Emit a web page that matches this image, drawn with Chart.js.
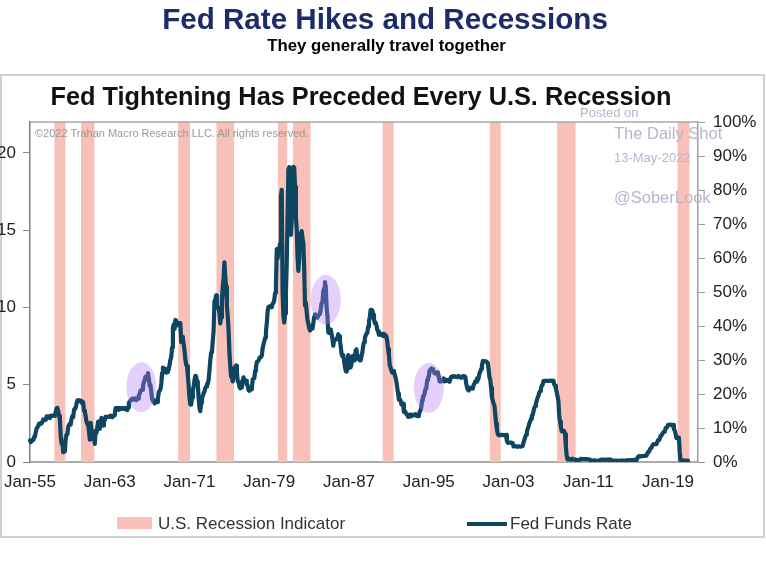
<!DOCTYPE html>
<html><head><meta charset="utf-8">
<script src="https://cdn.jsdelivr.net/npm/chart.js@4.4.0/dist/chart.umd.min.js"></script>
<style>
html,body{margin:0;padding:0;background:#fff;}
#wrap{position:relative;width:766px;height:574px;overflow:hidden;font-family:"Liberation Sans",Arial,sans-serif;}
#frame{position:absolute;left:0;top:74px;width:761px;height:460px;border:2px solid #d0d0d0;}
#c{position:absolute;left:0;top:0;}
.t{position:absolute;white-space:nowrap;line-height:1;}
.wm{color:#b3b7cc;}
</style></head><body>
<div id="wrap">
<div id="frame"></div>
<canvas id="c" width="766" height="574"></canvas>
<div class="t" style="left:0;width:770px;text-align:center;top:4px;font-weight:bold;font-size:29.6px;color:#1c2c6b;">Fed Rate Hikes and Recessions</div>
<div class="t" style="left:0;width:773px;text-align:center;top:38px;font-weight:bold;font-size:16.8px;color:#000;">They generally travel together</div>
<div class="t" style="left:0;width:722px;text-align:center;top:84px;font-weight:bold;font-size:25.3px;color:#111;">Fed Tightening Has Preceded Every U.S. Recession</div>
<div class="t" style="left:35px;top:128px;font-size:11px;color:#999;">©2022 Trahan Macro Research LLC. All rights reserved.</div>
<div class="t wm" style="left:580px;top:106px;font-size:13px;">Posted on</div>
<div class="t wm" style="left:614px;top:125px;font-size:16.5px;">The Daily Shot</div>
<div class="t wm" style="left:614px;top:151px;font-size:13px;">13-May-2022</div>
<div class="t wm" style="left:614px;top:189px;font-size:16.5px;">@SoberLook</div>
<div style="position:absolute;left:117px;top:517px;width:35px;height:12px;background:#f8c0b8;"></div>
<div class="t" style="left:158px;top:515px;font-size:17px;color:#333;">U.S. Recession Indicator</div>
<div style="position:absolute;left:467px;top:522px;width:40px;height:4px;background:#0e4561;"></div>
<div class="t" style="left:510px;top:515px;font-size:17px;color:#333;">Fed Funds Rate</div>
</div>
<script>
const startYear = 1955;
const lastLabel = '2022-01';
const monthNames = ['Jan','Feb','Mar','Apr','May','Jun','Jul','Aug','Sep','Oct','Nov','Dec'];
const xTickLabels = ['Jan-55','Jan-63','Jan-71','Jan-79','Jan-87','Jan-95','Jan-03','Jan-11','Jan-19'];

// Monthly effective fed funds rate, Jan-1955 .. Jan-2021 (one row per year)
const fedFundsRate = [
1.39,1.29,1.35,1.43,1.43,1.64,1.68,1.96,2.18,2.24,2.35,2.48,
2.45,2.50,2.50,2.62,2.75,2.71,2.75,2.73,2.95,2.96,2.88,2.94,
2.84,3.00,2.96,3.00,3.00,3.00,2.99,3.24,3.47,3.50,3.28,2.98,
2.72,1.67,1.20,1.26,0.63,0.93,0.68,1.53,1.76,1.80,2.27,2.42,
2.48,2.43,2.80,2.96,2.90,3.39,3.47,3.50,3.76,3.98,4.00,3.99,
3.99,3.97,3.84,3.92,3.85,3.32,3.23,2.98,2.60,2.47,2.44,1.98,
1.45,2.54,2.02,1.49,1.98,1.73,1.17,2.00,1.88,2.26,2.62,2.33,
2.15,2.37,2.85,2.78,2.36,2.68,2.71,2.93,2.90,2.90,2.94,2.93,
2.92,3.00,2.98,2.90,3.00,2.99,3.02,3.49,3.48,3.50,3.48,3.38,
3.48,3.48,3.43,3.47,3.50,3.50,3.42,3.50,3.45,3.36,3.52,3.85,
3.90,3.98,4.04,4.09,4.10,4.04,4.09,4.12,4.01,4.08,4.10,4.32,
4.42,4.60,4.65,4.67,4.90,5.17,5.30,5.53,5.40,5.53,5.76,5.40,
4.94,5.00,4.53,4.05,3.94,3.98,3.79,3.90,3.99,3.88,4.13,4.51,
4.61,4.71,5.05,5.76,6.11,6.07,6.02,6.03,5.78,5.91,5.82,6.02,
6.30,6.61,6.79,7.41,8.67,8.90,8.61,9.19,9.15,9.00,8.85,8.97,
8.98,8.98,7.76,8.10,7.95,7.61,7.21,6.61,6.29,6.20,5.60,4.90,
4.14,3.72,3.71,4.16,4.63,4.91,5.31,5.57,5.55,5.20,4.91,4.14,
3.50,3.29,3.83,4.17,4.27,4.46,4.55,4.80,4.87,5.04,5.06,5.33,
5.94,6.58,7.09,7.12,7.84,8.49,10.40,10.50,10.78,10.01,10.03,9.95,
9.65,8.97,9.35,10.51,11.31,11.93,12.92,12.01,11.34,10.06,9.45,8.53,
7.13,6.24,5.54,5.49,5.22,5.55,6.10,6.14,6.24,5.82,5.22,5.20,
4.87,4.77,4.84,4.82,5.29,5.48,5.31,5.29,5.25,5.02,4.95,4.65,
4.61,4.68,4.69,4.73,5.35,5.39,5.42,5.90,6.14,6.47,6.51,6.56,
6.70,6.78,6.79,6.89,7.36,7.60,7.81,8.04,8.45,8.96,9.76,10.03,
10.07,10.06,10.09,10.01,10.24,10.29,10.47,10.94,11.43,13.77,13.18,13.78,
13.82,14.13,17.19,17.61,10.98,9.47,9.03,9.61,10.87,12.81,15.85,18.90,
19.08,15.93,14.70,15.72,18.52,19.10,19.04,17.82,15.87,15.08,13.31,12.37,
13.22,14.78,14.68,14.94,14.45,14.15,12.59,10.12,10.31,9.71,9.20,8.95,
8.68,8.51,8.77,8.80,8.63,8.98,9.37,9.56,9.45,9.48,9.34,9.47,
9.56,9.59,9.91,10.29,10.32,11.06,11.23,11.64,11.30,9.99,9.43,8.38,
8.35,8.50,8.58,8.27,7.97,7.53,7.88,7.90,7.92,7.99,8.05,8.27,
8.14,7.86,7.48,6.99,6.85,6.92,6.56,6.17,5.89,5.85,6.04,6.91,
6.43,6.10,6.13,6.37,6.85,6.73,6.58,6.73,7.22,7.29,6.69,6.77,
6.83,6.58,6.58,6.87,7.09,7.51,7.75,8.01,8.19,8.30,8.35,8.76,
9.12,9.36,9.85,9.84,9.81,9.53,9.24,8.99,9.02,8.84,8.55,8.45,
8.23,8.24,8.28,8.26,8.18,8.29,8.15,8.13,8.20,8.11,7.81,7.31,
6.91,6.25,6.12,5.91,5.78,5.90,5.82,5.66,5.45,5.21,4.81,4.43,
4.03,4.06,3.98,3.73,3.82,3.76,3.25,3.30,3.22,3.10,3.09,2.92,
3.02,3.03,3.07,2.96,3.00,3.04,3.06,3.03,3.09,2.99,3.02,2.96,
3.05,3.25,3.34,3.56,4.01,4.25,4.26,4.47,4.73,4.76,5.29,5.45,
5.53,5.92,5.98,6.05,6.01,6.00,5.85,5.74,5.80,5.76,5.80,5.60,
5.56,5.22,5.31,5.22,5.24,5.27,5.40,5.22,5.30,5.24,5.31,5.29,
5.25,5.19,5.39,5.51,5.50,5.56,5.52,5.54,5.54,5.50,5.52,5.50,
5.56,5.51,5.49,5.45,5.49,5.56,5.54,5.55,5.51,5.07,4.83,4.68,
4.63,4.76,4.81,4.74,4.74,4.76,4.99,5.07,5.22,5.20,5.42,5.30,
5.45,5.73,5.85,6.02,6.27,6.53,6.54,6.50,6.52,6.51,6.51,6.40,
5.98,5.49,5.31,4.80,4.21,3.97,3.77,3.65,3.07,2.49,2.09,1.82,
1.73,1.74,1.73,1.75,1.75,1.75,1.73,1.74,1.75,1.75,1.34,1.24,
1.24,1.26,1.25,1.26,1.26,1.22,1.01,1.03,1.01,1.01,1.00,0.98,
1.00,1.01,1.00,1.00,1.00,1.03,1.26,1.43,1.61,1.76,1.93,2.16,
2.28,2.50,2.63,2.79,3.00,3.04,3.26,3.50,3.62,3.78,4.00,4.16,
4.29,4.49,4.59,4.79,4.94,4.99,5.24,5.25,5.25,5.25,5.25,5.24,
5.25,5.26,5.26,5.25,5.25,5.25,5.26,5.02,4.94,4.76,4.49,4.24,
3.94,2.98,2.61,2.28,1.98,2.00,2.01,2.00,1.81,0.97,0.39,0.16,
0.15,0.22,0.18,0.15,0.18,0.21,0.16,0.16,0.15,0.12,0.12,0.12,
0.11,0.13,0.16,0.20,0.20,0.18,0.18,0.19,0.19,0.19,0.19,0.18,
0.17,0.16,0.14,0.10,0.09,0.09,0.07,0.10,0.08,0.07,0.08,0.07,
0.08,0.10,0.13,0.14,0.16,0.16,0.16,0.13,0.14,0.16,0.16,0.16,
0.14,0.15,0.14,0.15,0.11,0.09,0.09,0.08,0.08,0.09,0.08,0.09,
0.07,0.07,0.08,0.09,0.09,0.10,0.09,0.09,0.09,0.09,0.09,0.12,
0.11,0.11,0.11,0.12,0.12,0.13,0.13,0.14,0.14,0.12,0.12,0.24,
0.34,0.38,0.36,0.37,0.37,0.38,0.39,0.40,0.40,0.40,0.41,0.54,
0.65,0.66,0.79,0.90,0.91,1.04,1.15,1.16,1.15,1.15,1.16,1.30,
1.41,1.42,1.51,1.69,1.70,1.82,1.91,1.91,1.95,2.19,2.20,2.27,
2.40,2.40,2.41,2.42,2.39,2.38,2.40,2.13,2.04,1.83,1.55,1.55,
1.55,1.58,0.65,0.05,0.05,0.08,0.09,0.10,0.09,0.09,0.09,0.09,
0.09
];

// Recession indicator periods (start month, end month) as shaded in the picture
const recessionPeriods = [
  ['1957-08','1958-06'], ['1960-04','1961-05'], ['1970-01','1970-12'],
  ['1973-11','1975-05'], ['1980-01','1980-09'], ['1981-07','1983-01'],
  ['1990-07','1991-05'], ['2001-04','2002-02'], ['2008-01','2009-08'],
  ['2020-02','2021-01']
];

// Highlighted tightening episodes (month, rate level at centre)
const highlightPoints = [['1966-03', 4.85], ['1984-09', 10.5], ['1995-01', 4.8]];

// Build monthly category labels
const monthLabels = [];
for (let y = startYear; ; y++) {
  let done = false;
  for (let m = 1; m <= 12; m++) {
    const lab = y + '-' + String(m).padStart(2, '0');
    monthLabels.push(lab);
    if (lab === lastLabel) { done = true; break; }
  }
  if (done) break;
}
const rateData = monthLabels.map((l, i) => i < fedFundsRate.length ? fedFundsRate[i] : null);
const recessionData = monthLabels.map(l => recessionPeriods.some(([s, e]) => l >= s && l <= e) ? 100 : null);

const lineColor = '#0e4561';
const extras = {
  id: 'extras',
  afterDatasetsDraw(chart) {
    const { ctx, chartArea: a, scales } = chart;
    ctx.save();
    ctx.fillStyle = 'rgba(180,120,245,0.35)';
    highlightPoints.forEach(([lab, v]) => {
      const x = scales.x.getPixelForValue(monthLabels.indexOf(lab));
      const y = scales.y.getPixelForValue(v);
      ctx.beginPath(); ctx.ellipse(x, y, 15, 25, 0, 0, Math.PI * 2); ctx.fill();
    });
    ctx.strokeStyle = '#a8a8a8'; ctx.lineWidth = 1.5;
    ctx.beginPath(); ctx.moveTo(a.left, a.top); ctx.lineTo(a.right, a.top); ctx.stroke();
    ctx.restore();
  }
};

const tickFont = { family: '"Liberation Sans", Arial, sans-serif', size: 17 };
new Chart(document.getElementById('c'), {
  type: 'line',
  data: {
    labels: monthLabels,
    datasets: [
      { type: 'line', label: 'Fed Funds Rate', data: rateData, yAxisID: 'y', borderColor: lineColor,
        borderWidth: 4.2, pointRadius: 0, tension: 0, order: 1, borderJoinStyle: 'round', borderCapStyle: 'round' },
      { type: 'bar', label: 'U.S. Recession Indicator', data: recessionData, yAxisID: 'y1',
        backgroundColor: '#f8c0b8', borderWidth: 0, barThickness: 2, order: 2 }
    ]
  },
  options: {
    responsive: false, animation: false, devicePixelRatio: 1,
    layout: { padding: { top: 122, bottom: 70, left: 0, right: 0 } },
    plugins: { legend: { display: false }, tooltip: { enabled: false }, title: { display: false } },
    scales: {
      x: {
        type: 'category', offset: false,
        grid: { display: false },
        border: { display: true, color: '#ababab', width: 2 },
        ticks: {
          autoSkip: false, maxRotation: 0, minRotation: 0, padding: 2, color: '#222', font: tickFont,
          callback(value) {
            const lab = this.getLabelForValue(value);
            const [yy, mm] = lab.split('-');
            const s = monthNames[+mm - 1] + '-' + yy.slice(2);
            return xTickLabels.includes(s) ? s : null;
          }
        },
        afterFit(s) { s.height = 42; }
      },
      y: {
        position: 'left', min: 0, max: 22,
        grid: { display: true, drawOnChartArea: false, drawTicks: true, tickLength: 7, color: '#888' },
        border: { display: true, color: '#808080', width: 1.5 },
        ticks: { stepSize: 5, includeBounds: false, padding: 7, color: '#222', font: tickFont },
        afterFit(s) { s.width = 30; }
      },
      y1: {
        position: 'right', min: 0, max: 100,
        grid: { display: true, drawOnChartArea: false, drawTicks: true, tickLength: 7, color: '#999' },
        border: { display: true, color: '#a0a0a0', width: 1.5 },
        ticks: { stepSize: 10, padding: 8, color: '#222', font: tickFont, callback: v => v + '%' },
        afterFit(s) { s.width = 68; }
      }
    }
  },
  plugins: [extras]
});
</script>
</body></html>
